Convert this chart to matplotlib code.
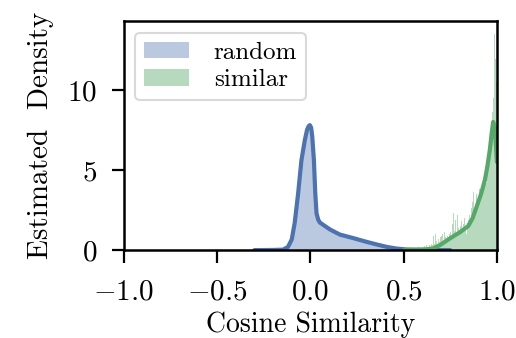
import matplotlib
matplotlib.use("Agg")
import matplotlib.pyplot as plt
import numpy as np

plt.rcParams['font.family'] = 'serif'
plt.rcParams['font.serif'] = ['cmr10']
plt.rcParams['mathtext.fontset'] = 'cm'
plt.rcParams['axes.formatter.use_mathtext'] = True
plt.rcParams['axes.unicode_minus'] = True

# KDE curve for "random" pairs (x, density)
random_x = [-0.30, -0.20, -0.146, -0.12, -0.10, -0.084, -0.066, -0.048, -0.030, -0.018,
            -0.010, -0.003, 0.004, 0.010, 0.019, 0.026, 0.033, 0.042, 0.051, 0.105,
            0.158, 0.23, 0.30, 0.36, 0.41, 0.46, 0.516, 0.60, 0.75]
random_y = [0.0, 0.01, 0.03, 0.2, 0.66, 1.7, 3.5, 5.6, 6.85, 7.5,
            7.72, 7.8, 7.65, 7.1, 5.6, 3.6, 2.3, 1.9, 1.72, 1.29,
            0.97, 0.75, 0.52, 0.34, 0.2, 0.1, 0.04, 0.01, 0.0]

# KDE curve for "similar" pairs
similar_x = [0.50, 0.55, 0.62, 0.658, 0.70, 0.748, 0.80, 0.846, 0.87, 0.891,
             0.915, 0.936, 0.950, 0.962, 0.972, 0.980, 0.988, 0.995, 1.0]
similar_y = [0.0, 0.02, 0.05, 0.1, 0.35, 0.73, 1.1, 1.5, 2.0, 2.7,
             3.5, 4.4, 5.3, 6.25, 7.3, 8.0, 7.7, 6.5, 5.5]

# Histogram of "similar" pairs: bin edges start and width, heights
hist_start = 0.55
hist_width = 0.005
similar_hist = [0.05, 0.1, 0.0, 0.15, 0.1, 0.2, 0.1, 0.05, 0.15, 0.1,
                0.2, 0.1, 0.25, 0.15, 0.3, 0.2, 0.1, 0.3, 0.25, 0.4,
                0.3, 0.5, 0.9, 0.4, 1.0, 0.6, 0.4, 0.7, 0.5, 0.8,
                0.9, 1.0, 0.6, 1.1, 0.8, 0.7, 1.2, 0.9, 0.6, 1.0,
                1.1, 0.8, 1.6, 2.3, 1.2, 1.9, 0.9, 2.2, 1.4, 1.0,
                1.5, 1.2, 1.8, 1.1, 1.6, 2.0, 1.3, 1.0, 1.7, 1.9,
                2.2, 1.8, 2.6, 3.0, 3.6, 2.4, 3.2, 2.8, 3.5, 3.0,
                3.4, 3.8, 3.2, 4.0, 3.6, 4.5, 3.9, 4.8, 4.2, 5.0,
                5.5, 6.2, 5.8, 7.0, 7.5, 8.6, 9.5, 13.5, 11.9, 10.5]

labels = ['random', 'similar']
blue = '#4c72b0'
green = '#55a868'

fig = plt.figure(figsize=(5.16, 3.38), dpi=100)
ax = fig.add_axes([0.240, 0.260, 0.723, 0.678])

edges = hist_start + hist_width * np.arange(len(similar_hist))
ax.bar(edges, similar_hist, width=hist_width, align='edge', color=green,
       alpha=0.42, linewidth=0, label=labels[1])

ax.fill_between(random_x, random_y, 0, color=blue, alpha=0.38, linewidth=0,
                label=labels[0])
ax.plot(random_x, random_y, color=blue, lw=3, solid_capstyle='round',
        solid_joinstyle='round')
ax.plot(similar_x, similar_y, color=green, lw=3, solid_capstyle='round',
        solid_joinstyle='round')

ax.set_xlim(-1.0, 1.0)
ax.set_ylim(0, 14.3)
ax.set_xticks([-1.0, -0.5, 0.0, 0.5, 1.0])
ax.set_yticks([0, 5, 10])
ax.tick_params(direction='out', length=9, width=1.6, labelsize=21)
ax.tick_params(axis='x', pad=12)
ax.tick_params(axis='y', pad=10)
for s in ax.spines.values():
    s.set_linewidth(1.8)
ax.set_xlabel('Cosine Similarity', fontsize=20, labelpad=4)
ax.set_ylabel('Estimated  Density', fontsize=21, labelpad=10)

h, l = ax.get_legend_handles_labels()
order = [l.index('random'), l.index('similar')]
leg = ax.legend([h[i] for i in order], [l[i] for i in order], loc='upper left',
                fontsize=18, handlelength=1.8, handleheight=0.65, frameon=True,
                fancybox=True, borderpad=0.35, labelspacing=0.22, handletextpad=1.0,
                borderaxespad=0.0, bbox_to_anchor=(0.03, 0.948))
leg.get_frame().set_edgecolor('#d0d0d0')
leg.get_frame().set_linewidth(1.5)

fig.savefig('out.png', dpi=100)
